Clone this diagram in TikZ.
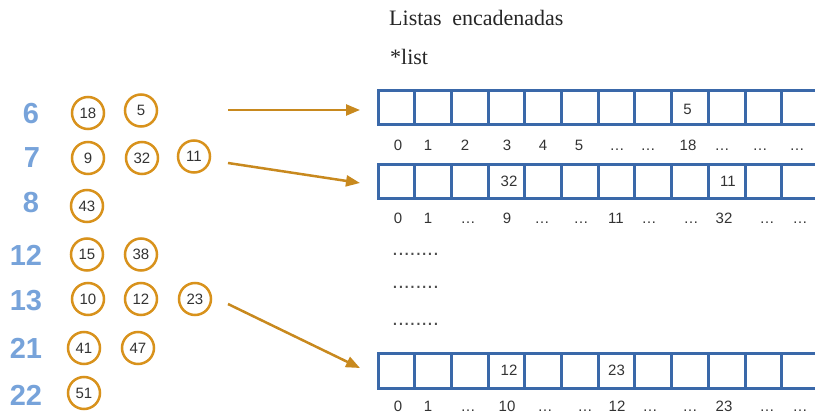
\documentclass[tikz,border=0pt]{standalone}
\usepackage{fontspec}
\setmainfont{Liberation Serif}
\setsansfont{Liberation Sans}
\usetikzlibrary{arrows.meta}
\definecolor{arrblue}{HTML}{3A68A9}
\definecolor{keyblue}{HTML}{77A3DA}
\definecolor{ringor}{HTML}{D8921C}
\definecolor{arrowor}{HTML}{C8891E}
\definecolor{txt}{HTML}{333333}
\begin{document}
\begin{tikzpicture}[x=1pt,y=-1pt,
 cell/.style={draw=arrblue,line width=3pt,minimum width=36.7pt,minimum height=34.5pt,inner sep=0pt},
 celltxt/.style={anchor=base,inner sep=0pt,font=\sffamily\fontsize{15}{15}\selectfont,text=txt},
 ring/.style={circle,draw=ringor,line width=2.5pt,minimum size=32pt,inner sep=0pt,font=\sffamily\fontsize{15}{15}\selectfont,text=txt},
 key/.style={inner sep=0pt,font=\sffamily\bfseries\fontsize{29}{29}\selectfont,text=keyblue},
 idx/.style={anchor=base,inner sep=0pt,font=\sffamily\fontsize{15}{15}\selectfont,text=txt},
 ttl/.style={anchor=base west,inner sep=0pt,font=\fontsize{22}{22}\selectfont,text=black!85},
 dots/.style={anchor=base west,inner sep=0pt,font=\sffamily\fontsize{21}{21}\selectfont,text=black!70},
 ptr/.style={draw=arrowor,line width=2.5pt,-{Triangle[length=14pt,width=11pt]}}
]
\useasboundingbox (0,0) rectangle (815,414);
\clip (0,0) rectangle (815,414);

% titles
\node[ttl] (title) at (389,26) {Listas\hspace{5pt} encadenadas};
\node[ttl] (plist) at (390,65) {*list};

% arrays
\foreach \i in {0,...,11} {
  \node[cell] (ra\i) at ({378+36.7*(\i+0.5)},107.75) {};
  \node[cell] (rb\i) at ({378+36.7*(\i+0.5)},181.75) {};
  \node[cell] (rc\i) at ({378+36.7*(\i+0.5)},371.25) {};
}
\node[celltxt] (va8) at (687.5,115) {5};
\node[celltxt] (vb3) at (509,187) {32};
\node[celltxt] (vb9) at (728,187) {11};
\node[celltxt] (vc3) at (509,376) {12};
\node[celltxt] (vc6) at (616.5,376) {23};

% indices
\foreach \x/\t [count=\k] in {398/0,428/1,465/2,507/3,543/4,579/5,617/…,648/…,688/18,722/…,760/…,797/…}
  \node[idx] (ia\k) at (\x,151) {\t};
\foreach \x/\t [count=\k] in {398/0,428/1,468/…,507/9,542/…,581/…,616/11,649/…,691/…,724/32,767/…,800/…}
  \node[idx] (ib\k) at (\x,224) {\t};
\foreach \x/\t [count=\k] in {398/0,428/1,468/…,507/10,545/…,585/…,617/12,650/…,690/…,724/23,767/…,800/…}
  \node[idx] (ic\k) at (\x,412) {\t};

% dotted rows
\node[dots] (d1) at (392,256) {........};
\node[dots] (d2) at (392,289) {........};
\node[dots] (d3) at (392,326) {........};

% keys
\node[key] (k6) at (31,114) {6};
\node[key] (k7) at (32,157.5) {7};
\node[key] (k8) at (31,203) {8};
\node[key] (k12) at (26,255) {12};
\node[key] (k13) at (26,301) {13};
\node[key] (k21) at (26,348) {21};
\node[key] (k22) at (26,395) {22};

% rings
\node[ring] (c18) at (88,113) {18};
\node[ring] (c5) at (141,110.5) {5};
\node[ring] (c9) at (88,158) {9};
\node[ring] (c32) at (142,158) {32};
\node[ring] (c11) at (194,156.5) {11};
\node[ring] (c43) at (87,206) {43};
\node[ring] (c15) at (87,254.5) {15};
\node[ring] (c38) at (141,254.5) {38};
\node[ring] (c10) at (88,299) {10};
\node[ring] (c12) at (141,299) {12};
\node[ring] (c23) at (195,299) {23};
\node[ring] (c41) at (84,348) {41};
\node[ring] (c47) at (138,348) {47};
\node[ring] (c51) at (84,393) {51};

% arrows
\coordinate (a1s) at (228,110);
\coordinate (a1e) at (360,110);
\coordinate (a2s) at (228,163);
\coordinate (a2e) at (360,183);
\coordinate (a3s) at (228,304);
\coordinate (a3e) at (360,368);
\draw[ptr] (a1s) -- (a1e);
\draw[ptr] (a2s) -- (a2e);
\draw[ptr] (a3s) -- (a3e);
\end{tikzpicture}
\end{document}
